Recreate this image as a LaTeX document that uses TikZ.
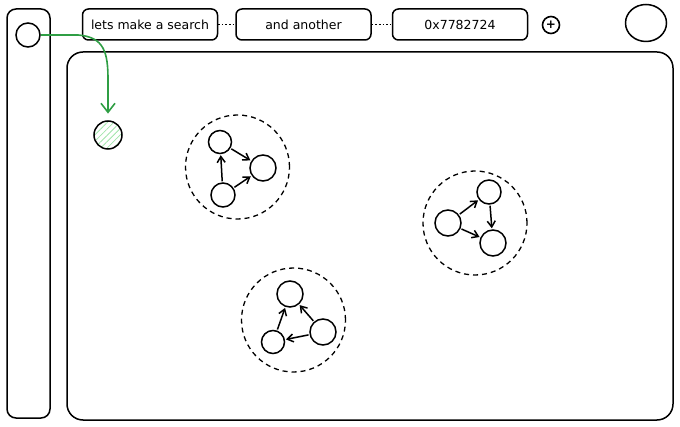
\documentclass[tikz,border=0pt]{standalone}
\usepackage{fontspec}
\setmainfont{DejaVu Sans}
\usetikzlibrary{arrows.meta,positioning,patterns.meta,shapes.geometric}
\definecolor{sketchgreen}{RGB}{47,158,68}
\definecolor{hatchgreen}{RGB}{160,228,170}

\begin{document}
\begin{tikzpicture}[x=1pt,y=-1pt,line width=1.5pt,
    tab/.style={draw,rounded corners=6pt,minimum width=135pt,minimum height=31pt,font=\fontsize{12.5}{14}\selectfont},
    vertex/.style={draw,circle,minimum size=24pt,inner sep=0pt},
    group/.style={draw,circle,dash pattern=on 5pt off 4pt,line width=1.3pt,minimum size=104pt,inner sep=0pt},
    link/.style={->,>={Straight Barb[length=6pt,width=8pt]},shorten <=1pt,shorten >=1pt}]
    \useasboundingbox (0,0) rectangle (680,427);

    % sidebar and canvas
    \draw[rounded corners=9pt] (7,9) rectangle (50,418);
    \draw[rounded corners=16pt] (67,52) rectangle (673,420);
    \node[vertex] (home) at (28,35) {};
    \node[draw,ellipse,minimum width=41pt,minimum height=37pt] (user) at (646,23) {};

    % search tabs
    \node[tab] (tabA) at (150,24.5) {lets make a search};
    \node[tab,right=17pt of tabA] (tabB) {and another};
    \node[tab,right=20pt of tabB] (tabC) {0x7782724};
    \draw[dotted,line width=1.6pt] (tabA) -- (tabB);
    \draw[dotted,line width=1.6pt] (tabB) -- (tabC);
    \node[draw,circle,minimum size=17pt,inner sep=0pt,line width=1.6pt,font=\bfseries\large] (add) at (551,25) {+};

    % new node from the sidebar
    \node[vertex,minimum size=28pt,pattern={Lines[angle=45,distance=4.5pt,line width=0.8pt]},pattern color=hatchgreen] (seed) at (108,135) {};
    \draw[sketchgreen,line width=1.6pt,-{Straight Barb[length=9pt,width=14pt]},shorten >=7pt]
        (home.east) -- (78,35) .. controls (104,37) and (108,52) .. (108,80) -- (seed.north);

    % first group
    \node[group] (g1) at (237.5,167) {};
    \node[vertex,minimum size=23pt] (a1) at (220,142) {};
    \node[vertex,minimum size=26pt] (a2) at (263,168) {};
    \node[vertex] (a3) at (223,195) {};
    \draw[link] (a3) -- (a1);
    \draw[link] (a1) -- (a2);
    \draw[link] (a3) -- (a2);

    % second group
    \node[group] (g2) at (475,223) {};
    \node[vertex] (b1) at (489,192) {};
    \node[vertex,minimum size=26pt] (b2) at (448,223) {};
    \node[vertex,minimum size=26pt] (b3) at (493,243) {};
    \draw[link] (b2) -- (b1);
    \draw[link] (b1) -- (b3);
    \draw[link] (b2) -- (b3);

    % third group
    \node[group] (g3) at (293.5,320) {};
    \node[vertex,minimum size=26pt] (c1) at (290,294) {};
    \node[vertex,minimum size=26pt] (c2) at (323,332) {};
    \node[vertex,minimum size=23pt] (c3) at (273,342) {};
    \draw[link] (c3) -- (c1);
    \draw[link] (c2) -- (c1);
    \draw[link] (c2) -- (c3);
\end{tikzpicture}
\end{document}
